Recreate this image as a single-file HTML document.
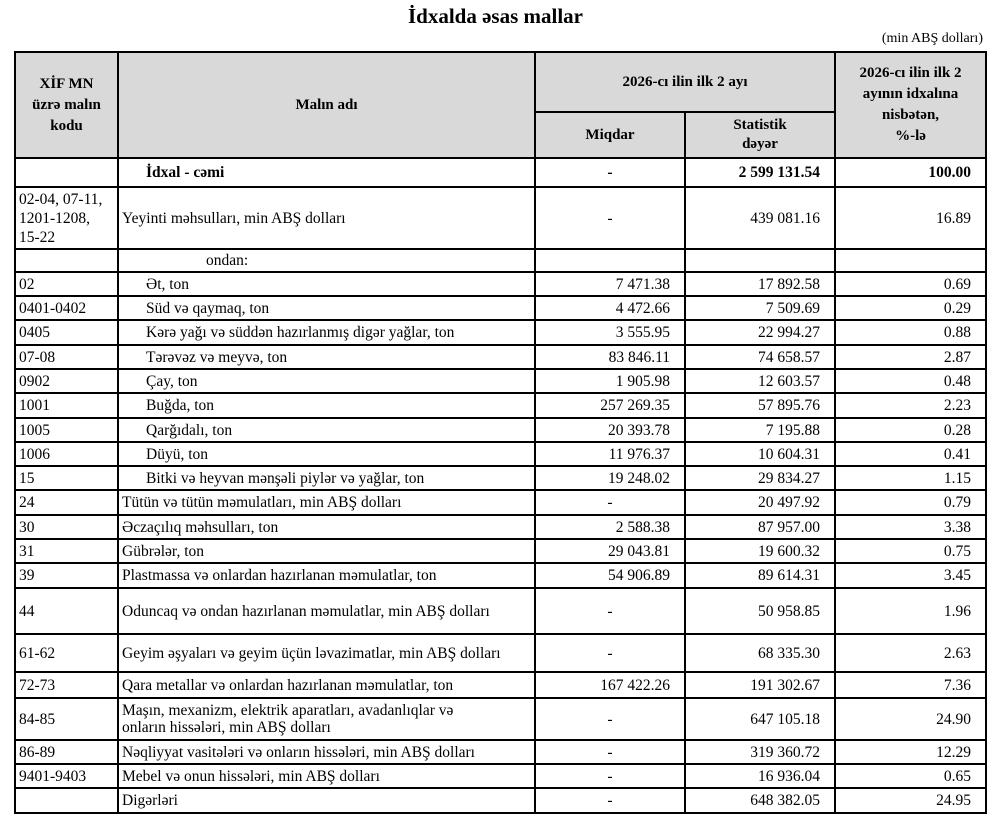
<!DOCTYPE html>
<html><head><meta charset="utf-8"><style>
body{margin:0;width:991px;height:826px;background:#fff;font-family:"Liberation Serif",serif;color:#000;position:relative;overflow:hidden}
.t{position:absolute;left:0;top:4px;width:991px;text-align:center;font-weight:bold;font-size:21px}
.u{position:absolute;right:8px;top:31px;font-size:14px}
table{position:absolute;left:14px;top:51px;border-collapse:collapse;table-layout:fixed;font-size:15.5px}
td{border:2px solid #000;padding:0 3px;line-height:17px;overflow:hidden;white-space:nowrap}
.h td,td.h{background:#d9d9d9;font-weight:bold;text-align:center;white-space:normal;line-height:21px;font-size:15px}
.r{text-align:right;padding-right:14px}
.c{text-align:center}
.s{padding-left:27px}
.b{font-weight:bold}
</style></head><body>
<div class="t">İdxalda əsas mallar</div>
<div class="u">(min ABŞ dolları)</div>
<table>
<colgroup><col style="width:103px"><col style="width:417px"><col style="width:150px"><col style="width:150px"><col style="width:151px"></colgroup>
<tr class="h" style="height:60px"><td rowspan="2">XİF MN<br>üzrə malın<br>kodu</td><td rowspan="2">Malın adı</td><td colspan="2">2026-cı ilin ilk 2 ayı</td><td rowspan="2">2026-cı ilin ilk 2<br>ayının idxalına<br>nisbətən,<br>%-lə</td></tr>
<tr class="h" style="height:46px"><td>Miqdar</td><td style="line-height:19px">Statistik<br>dəyər</td></tr>
<tr style="height:29px"><td></td><td class="s b">İdxal - cəmi</td><td class="c b">-</td><td class="r b">2 599 131.54</td><td class="r b">100.00</td></tr>
<tr style="height:62px"><td style="line-height:19px">02-04, 07-11,<br>1201-1208,<br>15-22</td><td>Yeyinti məhsulları, min ABŞ dolları</td><td class="c">-</td><td class="r">439 081.16</td><td class="r">16.89</td></tr>
<tr style="height:23px"><td></td><td style="padding-left:87px">ondan:</td><td></td><td></td><td></td></tr>
<tr style="height:24px"><td>02</td><td class="s">Ət, ton</td><td class="r">7 471.38</td><td class="r">17 892.58</td><td class="r">0.69</td></tr>
<tr style="height:24px"><td>0401-0402</td><td class="s">Süd və qaymaq, ton</td><td class="r">4 472.66</td><td class="r">7 509.69</td><td class="r">0.29</td></tr>
<tr style="height:25px"><td>0405</td><td class="s">Kərə yağı və süddən hazırlanmış digər yağlar, ton</td><td class="r">3 555.95</td><td class="r">22 994.27</td><td class="r">0.88</td></tr>
<tr style="height:24px"><td>07-08</td><td class="s">Tərəvəz və meyvə, ton</td><td class="r">83 846.11</td><td class="r">74 658.57</td><td class="r">2.87</td></tr>
<tr style="height:24px"><td>0902</td><td class="s">Çay, ton</td><td class="r">1 905.98</td><td class="r">12 603.57</td><td class="r">0.48</td></tr>
<tr style="height:25px"><td>1001</td><td class="s">Buğda, ton</td><td class="r">257 269.35</td><td class="r">57 895.76</td><td class="r">2.23</td></tr>
<tr style="height:24px"><td>1005</td><td class="s">Qarğıdalı, ton</td><td class="r">20 393.78</td><td class="r">7 195.88</td><td class="r">0.28</td></tr>
<tr style="height:24px"><td>1006</td><td class="s">Düyü, ton</td><td class="r">11 976.37</td><td class="r">10 604.31</td><td class="r">0.41</td></tr>
<tr style="height:24px"><td>15</td><td class="s">Bitki və heyvan mənşəli piylər və yağlar, ton</td><td class="r">19 248.02</td><td class="r">29 834.27</td><td class="r">1.15</td></tr>
<tr style="height:25px"><td>24</td><td>Tütün və tütün məmulatları, min ABŞ dolları</td><td class="c">-</td><td class="r">20 497.92</td><td class="r">0.79</td></tr>
<tr style="height:24px"><td>30</td><td>Əczaçılıq məhsulları, ton</td><td class="r">2 588.38</td><td class="r">87 957.00</td><td class="r">3.38</td></tr>
<tr style="height:24px"><td>31</td><td>Gübrələr, ton</td><td class="r">29 043.81</td><td class="r">19 600.32</td><td class="r">0.75</td></tr>
<tr style="height:25px"><td>39</td><td>Plastmassa və onlardan hazırlanan məmulatlar, ton</td><td class="r">54 906.89</td><td class="r">89 614.31</td><td class="r">3.45</td></tr>
<tr style="height:46px"><td>44</td><td>Oduncaq və ondan hazırlanan məmulatlar, min ABŞ dolları</td><td class="c">-</td><td class="r">50 958.85</td><td class="r">1.96</td></tr>
<tr style="height:38px"><td>61-62</td><td>Geyim əşyaları və geyim üçün ləvazimatlar, min ABŞ dolları</td><td class="c">-</td><td class="r">68 335.30</td><td class="r">2.63</td></tr>
<tr style="height:26px"><td>72-73</td><td>Qara metallar və onlardan hazırlanan məmulatlar, ton</td><td class="r">167 422.26</td><td class="r">191 302.67</td><td class="r">7.36</td></tr>
<tr style="height:42px"><td>84-85</td><td>Maşın, mexanizm, elektrik aparatları, avadanlıqlar və<br>onların hissələri, min ABŞ dolları</td><td class="c">-</td><td class="r">647 105.18</td><td class="r">24.90</td></tr>
<tr style="height:24px"><td>86-89</td><td>Nəqliyyat vasitələri və onların hissələri, min ABŞ dolları</td><td class="c">-</td><td class="r">319 360.72</td><td class="r">12.29</td></tr>
<tr style="height:24px"><td>9401-9403</td><td>Mebel və onun hissələri, min ABŞ dolları</td><td class="c">-</td><td class="r">16 936.04</td><td class="r">0.65</td></tr>
<tr style="height:25px"><td></td><td>Digərləri</td><td class="c">-</td><td class="r">648 382.05</td><td class="r">24.95</td></tr>
</table>
</body></html>
